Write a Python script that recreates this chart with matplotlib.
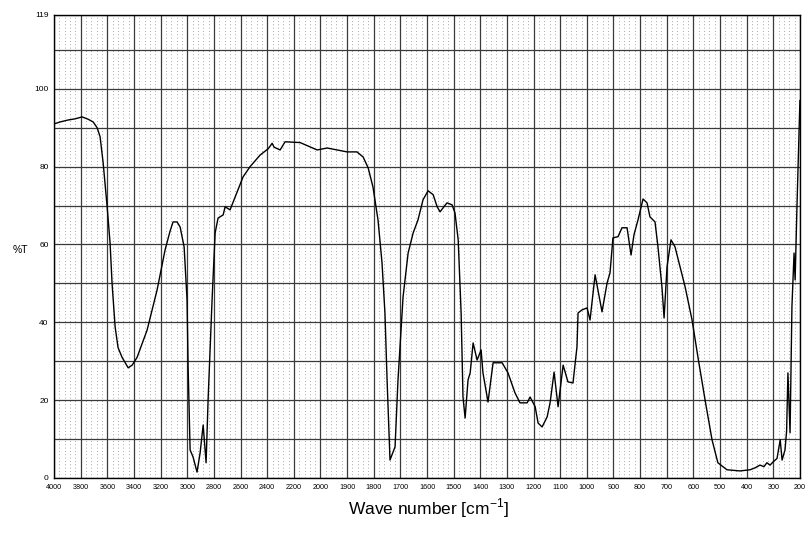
import numpy as np
import matplotlib
matplotlib.use('Agg')
import matplotlib.pyplot as plt
from matplotlib.ticker import FixedLocator, NullFormatter

# IR spectrum: wave number [cm-1] vs %T
wavenumber = [4000, 3955, 3895, 3842, 3790, 3745, 3707, 3677, 3655, 3632,
              3602, 3580, 3565, 3542, 3520, 3490, 3444, 3414, 3377, 3302,
              3227, 3167, 3129, 3107, 3077, 3054, 3024, 3002, 2994, 2979,
              2957, 2927, 2904, 2881, 2859, 2844, 2814, 2791, 2769, 2731,
              2716, 2679, 2641, 2581, 2529, 2453, 2393, 2363, 2348, 2303,
              2266, 2153, 2025, 1975, 1900, 1863, 1840, 1821, 1803, 1784,
              1769, 1758, 1750, 1739, 1720, 1709, 1690, 1671, 1652, 1634,
              1615, 1596, 1577, 1562, 1551, 1540, 1525, 1506, 1495, 1483,
              1472, 1465, 1457, 1446, 1438, 1427, 1412, 1397, 1390, 1371,
              1352, 1318, 1296, 1270, 1251, 1224, 1213, 1194, 1183, 1168,
              1149, 1138, 1123, 1108, 1089, 1071, 1052, 1037, 1033, 1018,
              999, 988, 969, 943, 924, 913, 902, 883, 868, 849,
              834, 823, 808, 789, 774, 763, 744, 733, 718, 710,
              699, 684, 669, 650, 631, 605, 583, 556, 530, 508,
              474, 425, 387, 368, 350, 335, 324, 312, 301, 286,
              274, 267, 256, 250, 245, 237, 230, 222, 218, 211, 200]
transmittance = [91.0, 91.5, 92.0, 92.3, 92.8, 92.2, 91.5, 90.0, 87.7, 81.0,
                 69.7, 60.4, 50.0, 38.8, 33.5, 31.0, 28.3, 29.0, 31.0, 38.0,
                 48.3, 58.6, 63.5, 65.8, 65.8, 64.5, 59.4, 45.8, 28.5, 7.2,
                 5.4, 1.5, 6.4, 13.6, 3.9, 20.0, 45.8, 63.0, 66.8, 67.6,
                 69.7, 68.9, 72.2, 77.4, 80.0, 83.0, 84.6, 86.0, 85.0, 84.3,
                 86.4, 86.2, 84.3, 84.8, 83.8, 83.8, 82.5, 79.7, 74.8, 66.3,
                 55.3, 42.4, 25.2, 4.6, 8.0, 25.2, 46.5, 57.8, 63.0, 66.3,
                 71.5, 73.8, 72.8, 69.7, 68.4, 69.4, 70.7, 70.2, 68.1, 61.2,
                 42.4, 20.8, 15.4, 25.2, 27.0, 34.7, 30.3, 32.9, 27.0, 19.5,
                 29.6, 29.6, 27.0, 21.9, 19.3, 19.3, 20.8, 18.3, 14.1, 13.1,
                 15.7, 19.3, 27.2, 18.3, 29.0, 24.7, 24.4, 33.7, 42.4, 43.2,
                 43.7, 40.6, 52.2, 42.7, 50.1, 52.7, 61.7, 62.0, 64.3, 64.3,
                 57.3, 62.5, 66.3, 71.7, 70.7, 67.1, 65.8, 59.4, 49.1, 41.1,
                 54.2, 61.2, 59.4, 54.2, 49.1, 40.6, 31.1, 20.0, 9.8, 3.9,
                 2.1, 1.8, 2.1, 2.6, 3.3, 2.9, 3.9, 3.3, 4.1, 5.0,
                 9.8, 4.6, 7.2, 12.0, 27.0, 11.6, 44.0, 57.8, 50.9, 70.0, 97.0]

x_ticks = [4000, 3800, 3600, 3400, 3200, 3000, 2800, 2600, 2400, 2200,
           2000, 1900, 1800, 1700, 1600, 1500, 1400, 1300, 1200, 1100,
           1000, 900, 800, 700, 600, 500, 400, 300, 200]
y_labels = [0, 20, 40, 60, 80, 100, 119]


# chart paper: 200 cm-1 per division above 2000, 100 cm-1 per division below
def forward(w):
    w = np.asarray(w, dtype=float)
    return np.where(w >= 2000, w / 200.0, w / 100.0 - 10.0)


def inverse(p):
    p = np.asarray(p, dtype=float)
    return np.where(p >= 10, p * 200.0, (p + 10.0) * 100.0)


plt.rcParams['font.family'] = ['Liberation Sans', 'DejaVu Sans']

fig = plt.figure(figsize=(8.08, 5.34), dpi=100)
ax = fig.add_axes([0.067, 0.105, 0.923, 0.867])

ax.set_xscale('function', functions=(forward, inverse))
ax.set_xlim(4000, 200)
ax.set_ylim(0, 119)

ax.plot(wavenumber, transmittance, color='black', lw=1.0, zorder=3)

# grid: solid majors, dotted minors between the labelled wave numbers
minor = []
for a, b in zip(x_ticks[:-1], x_ticks[1:]):
    minor += list(np.linspace(a, b, 6)[1:-1])
ax.xaxis.set_major_locator(FixedLocator(x_ticks))
ax.xaxis.set_minor_locator(FixedLocator(minor))
ax.xaxis.set_minor_formatter(NullFormatter())
ax.set_xticklabels([str(t) for t in x_ticks], fontsize=5.2)

y_grid = list(range(0, 120, 10)) + [119]
ax.yaxis.set_major_locator(FixedLocator(y_grid))
ax.set_yticklabels([str(v) if v in y_labels else '' for v in y_grid], fontsize=6)

ax.grid(which='major', axis='both', color='#3a3a3a', lw=0.9)
ax.grid(which='minor', axis='x', color='#8a8a8a', lw=0.6, linestyle=(0, (1, 3)))
ax.tick_params(which='both', length=0)
ax.tick_params(axis='x', pad=4.5)
ax.tick_params(axis='y', pad=4)
for s in ax.spines.values():
    s.set_color('black')
    s.set_linewidth(1.0)

fig.text(0.025, 0.532, '%T', fontsize=7.5, va='center', ha='center')
fig.text(0.53, 0.027, 'Wave number [cm$^{\\mathregular{-1}}$]', fontsize=12.5,
         ha='center', va='bottom')

fig.savefig('out.png', dpi=100)
